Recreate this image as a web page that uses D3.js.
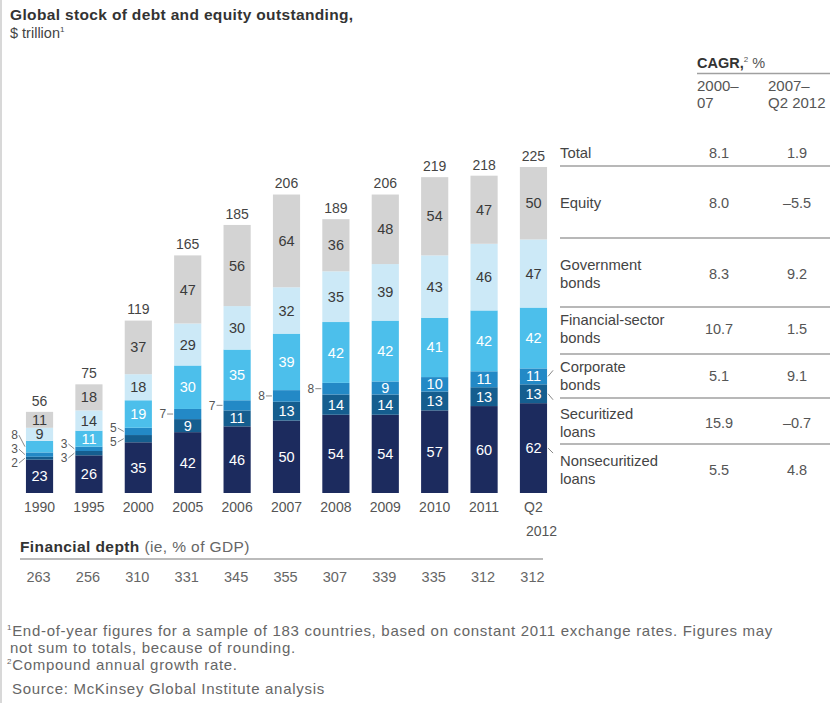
<!DOCTYPE html>
<html>
<head>
<meta charset="utf-8">
<script src="https://cdn.jsdelivr.net/npm/d3@7"></script>
<style>
  html, body { margin: 0; padding: 0; background: #fff; }
  svg { display: block; font-family: "Liberation Sans", Arial, Helvetica, sans-serif; }
</style>
</head>
<body>
<svg id="chart" width="830" height="703"></svg>
<script>
// ---------------- DATA ----------------
const years = ["1990", "1995", "2000", "2005", "2006", "2007", "2008", "2009", "2010", "2011", "Q2 2012"];
const nonsecuritizedLoans = [23, 26, 35, 42, 46, 50, 54, 54, 57, 60, 62];
const securitizedLoans    = [2, 3, 5, 9, 11, 13, 14, 14, 13, 13, 13];
const corporateBonds      = [3, 3, 5, 7, 7, 8, 8, 9, 10, 11, 11];
const financialBonds      = [8, 11, 19, 30, 35, 39, 42, 42, 41, 42, 42];
const governmentBonds     = [9, 14, 18, 29, 30, 32, 35, 39, 43, 46, 47];
const equity              = [11, 18, 37, 47, 56, 64, 36, 48, 54, 47, 50];
const totals              = [56, 75, 119, 165, 185, 206, 189, 206, 219, 218, 225];
const financialDepth      = [263, 256, 310, 331, 345, 355, 307, 339, 335, 312, 312];

const legendRows  = ["Total", "Equity", "Government\nbonds", "Financial-sector\nbonds", "Corporate\nbonds", "Securitized\nloans", "Nonsecuritized\nloans"];
const cagr2000_07 = ["8.1", "8.0", "8.3", "10.7", "5.1", "15.9", "5.5"];
const cagr2007_12 = ["1.9", "\u20135.5", "9.2", "1.5", "9.1", "\u20130.7", "4.8"];

// ---------------- SETUP ----------------
const seriesKeys = ["nonsec", "sec", "corp", "fin", "gov", "eq"];
const seriesVals = [nonsecuritizedLoans, securitizedLoans, corporateBonds, financialBonds, governmentBonds, equity];
const colors = { nonsec: "#1c2b5e", sec: "#155e8f", corp: "#2389c6", fin: "#4cbfeb", gov: "#cce9f7", eq: "#d3d3d3" };
const labelColors = { nonsec: "#ffffff", sec: "#ffffff", corp: "#ffffff", fin: "#ffffff", gov: "#3a3a3a", eq: "#3a3a3a" };

const table = years.map((y, i) => {
  const row = { year: y };
  seriesKeys.forEach((k, j) => row[k] = seriesVals[j][i]);
  return row;
});
const stacked = d3.stack().keys(seriesKeys)(table);

const svg = d3.select("#chart");
const textCol = "#555";

// left border
svg.append("line").attr("x1", 1).attr("x2", 1).attr("y1", 0).attr("y2", 703)
  .attr("stroke", "#d8d8d8").attr("stroke-width", 2);

// title
svg.append("text").attr("x", 10).attr("y", 20)
  .attr("font-size", 15.5).attr("font-weight", "bold").attr("fill", "#333")
  .attr("letter-spacing", 0.35)
  .text("Global stock of debt and equity outstanding,");
const sub = svg.append("text").attr("x", 10).attr("y", 38).attr("font-size", 14.5).attr("fill", "#444");
sub.append("tspan").text("$ trillion");
sub.append("tspan").attr("font-size", 8).attr("dy", -6).text("1");

// scales
const x = d3.scaleBand().domain(years).range([13.6, 559.4]).paddingInner(0.45).paddingOuter(0.25);
const y = d3.scaleLinear().domain([0, 225]).range([493, 167]);

// bars
const layer = svg.append("g").selectAll("g").data(stacked).join("g")
  .attr("fill", d => colors[d.key]);
layer.selectAll("rect").data(d => d.map(p => ({ p, key: d.key }))).join("rect")
  .attr("x", d => x(d.p.data.year))
  .attr("width", x.bandwidth())
  .attr("y", d => y(d.p[1]))
  .attr("height", d => y(d.p[0]) - y(d.p[1]));

// inside labels
const segFont = 14.5;
stacked.forEach(s => {
  s.forEach(p => {
    const v = p[1] - p[0];
    const cy = (y(p[0]) + y(p[1])) / 2;
    if (v > 8) {
      svg.append("text")
        .attr("x", x(p.data.year) + x.bandwidth() / 2)
        .attr("y", cy).attr("dy", "0.35em")
        .attr("text-anchor", "middle").attr("font-size", segFont)
        .attr("fill", labelColors[s.key])
        .text(v);
    }
  });
});

// outside labels with leader lines (small segments)
years.forEach((yr, i) => {
  const items = [];
  stacked.forEach(s => {
    const p = s[i];
    const v = p[1] - p[0];
    if (v <= 8) items.push({ v, cy: (y(p[0]) + y(p[1])) / 2 });
  });
  if (!items.length) return;
  items.sort((a, b) => a.cy - b.cy);
  const gap = 14;
  const mean = d3.mean(items, d => d.cy) - (items.length > 2 ? 4 : 0);
  items.forEach((d, k) => d.ly = items.length === 1 ? d.cy : mean + (k - (items.length - 1) / 2) * gap);
  const left = x(yr);
  items.forEach(d => {
    svg.append("line")
      .attr("x1", left - 7).attr("y1", d.ly)
      .attr("x2", left - 1).attr("y2", d.cy)
      .attr("stroke", "#888").attr("stroke-width", 1);
    svg.append("text")
      .attr("x", left - 8).attr("y", d.ly).attr("dy", "0.35em")
      .attr("text-anchor", "end").attr("font-size", 12).attr("fill", textCol)
      .text(d.v);
  });
});

// totals above bars
svg.append("g").selectAll("text").data(years).join("text")
  .attr("x", d => x(d) + x.bandwidth() / 2)
  .attr("y", (d, i) => y(stacked[stacked.length - 1][i][1]) - 11)
  .attr("dy", "0.35em")
  .attr("text-anchor", "middle").attr("font-size", 14).attr("fill", "#444")
  .text((d, i) => totals[i]);

// x axis (years)
const xAxis = svg.append("g").attr("transform", "translate(0,493)")
  .call(d3.axisBottom(x).tickSize(0).tickPadding(9));
xAxis.select(".domain").remove();
xAxis.selectAll("text")
  .attr("font-size", 14).attr("fill", textCol)
  .attr("font-family", "Liberation Sans, Arial, sans-serif")
  .each(function (d) {
    if (d.indexOf(" ") > -1) {
      const t = d3.select(this);
      const parts = d.split(" ");
      t.text(null);
      t.append("tspan").attr("x", 0).text(parts[0]);
      t.append("tspan").attr("x", 8).attr("dy", 24).text(parts[1]);
    }
  });

// financial depth
const fd = svg.append("text").attr("x", 20).attr("y", 552).attr("font-size", 15.5).attr("letter-spacing", 0.4);
fd.append("tspan").attr("font-weight", "bold").attr("fill", "#333").text("Financial depth");
fd.append("tspan").attr("fill", "#666").text(" (ie, % of GDP)");
svg.append("line").attr("x1", 20).attr("x2", 543).attr("y1", 559).attr("y2", 559)
  .attr("stroke", "#a5a5a5").attr("stroke-width", 1.5);
svg.append("g").selectAll("text").data(years).join("text")
  .attr("x", d => x(d) + x.bandwidth() / 2 - 1)
  .attr("y", 577).attr("dy", "0.35em")
  .attr("text-anchor", "middle").attr("font-size", 14.5).attr("fill", "#666")
  .text((d, i) => financialDepth[i]);

// ---------------- CAGR TABLE ----------------
const labX = 560, col1X = 697, col2X = 768, val1X = 719, val2X = 797;
const cagrH = svg.append("text").attr("x", col1X).attr("y", 68).attr("font-size", 14.5);
cagrH.append("tspan").attr("font-weight", "bold").attr("fill", "#333").text("CAGR,");
cagrH.append("tspan").attr("font-size", 8).attr("dy", -6).attr("fill", "#555").text("2");
cagrH.append("tspan").attr("dy", 6).attr("fill", "#555").text(" %");
svg.append("line").attr("x1", col1X).attr("x2", 830).attr("y1", 73.5).attr("y2", 73.5)
  .attr("stroke", "#a0a0a0").attr("stroke-width", 1.5);
[[col1X, "2000\u2013", "07"], [col2X, "2007\u2013", "Q2 2012"]].forEach(h => {
  svg.append("text").attr("x", h[0]).attr("y", 91).attr("font-size", 15).attr("fill", textCol).text(h[1]);
  svg.append("text").attr("x", h[0]).attr("y", 108).attr("font-size", 15).attr("fill", textCol).text(h[2]);
});

const rowCenters = [153, 203, 274, 329, 376, 423, 470];
const dividers = [166, 238, 307, 354, 398, 444];
dividers.forEach(dy => {
  svg.append("line").attr("x1", labX).attr("x2", 830).attr("y1", dy).attr("y2", dy)
    .attr("stroke", "#a0a0a0").attr("stroke-width", 1.5);
});
legendRows.forEach((lab, i) => {
  const lines = lab.split("\n");
  const cy = rowCenters[i];
  const lh = 18;
  lines.forEach((ln, k) => {
    svg.append("text").attr("x", labX)
      .attr("y", cy + (k - (lines.length - 1) / 2) * lh).attr("dy", "0.35em")
      .attr("font-size", 14.8).attr("fill", "#444").text(ln);
  });
  svg.append("text").attr("x", val1X).attr("y", cy).attr("dy", "0.35em")
    .attr("text-anchor", "middle").attr("font-size", 14.5).attr("fill", textCol).text(cagr2000_07[i]);
  svg.append("text").attr("x", val2X).attr("y", cy).attr("dy", "0.35em")
    .attr("text-anchor", "middle").attr("font-size", 14.5).attr("fill", textCol).text(cagr2007_12[i]);
});

// leader ticks from last bar to legend rows (corporate, securitized, nonsecuritized)
const last = years.length - 1;
const barRight = x(years[last]) + x.bandwidth();
[[2, -6], [1, 6], [0, 5]].forEach(([si, dyy]) => {
  const p = stacked[si][last];
  const cy = (y(p[0]) + y(p[1])) / 2;
  svg.append("line").attr("x1", barRight + 1).attr("y1", cy)
    .attr("x2", barRight + 6).attr("y2", cy + dyy)
    .attr("stroke", "#888").attr("stroke-width", 1);
});

// ---------------- FOOTNOTES ----------------
const fnSize = 15;
const fnLS = 0.7;
const fnCol = "#666";
const f1 = svg.append("text").attr("x", 7).attr("y", 636).attr("font-size", fnSize).attr("fill", fnCol).attr("letter-spacing", fnLS);
f1.append("tspan").attr("font-size", 8).attr("dy", -6).text("1");
f1.append("tspan").attr("dy", 6).text("End-of-year figures for a sample of 183 countries, based on constant 2011 exchange rates. Figures may");
svg.append("text").attr("x", 10).attr("y", 653).attr("font-size", fnSize).attr("fill", fnCol).attr("letter-spacing", fnLS)
  .text("not sum to totals, because of rounding.");
const f2 = svg.append("text").attr("x", 7).attr("y", 670).attr("font-size", fnSize).attr("fill", fnCol).attr("letter-spacing", fnLS);
f2.append("tspan").attr("font-size", 8).attr("dy", -6).text("2");
f2.append("tspan").attr("dy", 6).text("Compound annual growth rate.");
svg.append("text").attr("x", 12).attr("y", 694).attr("font-size", fnSize).attr("fill", fnCol).attr("letter-spacing", fnLS)
  .text("Source: McKinsey Global Institute analysis");
</script>
</body>
</html>
